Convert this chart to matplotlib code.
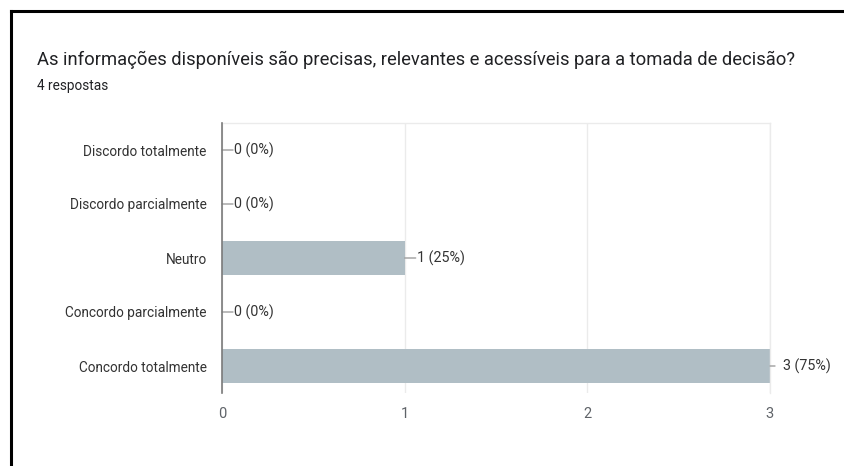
import matplotlib
matplotlib.use("Agg")
import matplotlib.pyplot as plt
from matplotlib.lines import Line2D

categories = ["Discordo totalmente", "Discordo parcialmente", "Neutro",
              "Concordo parcialmente", "Concordo totalmente"]
counts = [0, 0, 1, 0, 3]
total = 4
xticks = [0, 1, 2, 3]
title = "As informações disponíveis são precisas, relevantes e acessíveis para a tomada de decisão?"
subtitle = "4 respostas"

plt.rcParams["font.family"] = ["Roboto", "DejaVu Sans"]

W, H = 845, 466
fig = plt.figure(figsize=(W / 100, H / 100), dpi=100)
fig.patch.set_facecolor("white")

# card frame: left and top edges
fig.add_artist(Line2D([11 / W, 11 / W], [0, 1 - 11 / H], transform=fig.transFigure,
                      color="black", lw=2.2))
fig.add_artist(Line2D([11 / W, 1], [1 - 11 / H, 1 - 11 / H], transform=fig.transFigure,
                      color="black", lw=2.2))

fig.text(37 / W, 1 - 60 / H, title, fontsize=13.2, color="#202124", va="center", ha="left")
fig.text(37 / W, 1 - 86 / H, subtitle, fontsize=9.8, color="#202124", va="center", ha="left")

left, right, top, bottom = 222, 770, 123, 393
ax = fig.add_axes([left / W, 1 - bottom / H, (right - left) / W, (bottom - top) / H])

ypos = list(range(len(categories)))
ax.barh(ypos, counts, height=0.62, color="#b0bec5", zorder=2)
ax.set_xlim(0, 3)
ax.set_ylim(len(categories) - 0.5, -0.5)
ax.set_yticks(ypos)
ax.set_yticklabels(categories, fontsize=9.8, color="#333333")
ax.set_xticks(xticks)
ax.set_xticklabels([str(t) for t in xticks], fontsize=10.5, color="#5f6368")
ax.tick_params(axis="y", length=0, pad=11)
ax.tick_params(axis="x", length=0, pad=10)
ax.grid(axis="x", color="#ebebeb", lw=1, zorder=0)
ax.spines["bottom"].set_visible(False)
for s in ["top", "right"]:
    ax.spines[s].set_color("#ebebeb")
    ax.spines[s].set_linewidth(1)
ax.spines["left"].set_color("#7a7a7a")
ax.spines["left"].set_linewidth(1.2)
ax.spines["left"].set_zorder(3)

# value labels, each with a short leader line from the bar end
px = 72 / fig.dpi  # points per pixel
for y, c in zip(ypos, counts):
    pct = round(100 * c / total)
    if c == max(counts):
        lead, gap = 5, 13
    else:
        lead, gap = 11, 12
    ax.annotate("", xy=(c, y), xycoords="data",
                xytext=(lead * px, 0), textcoords="offset points",
                arrowprops=dict(arrowstyle="-", color="#9e9e9e", lw=1.0,
                                shrinkA=0, shrinkB=0), annotation_clip=False)
    ax.annotate(f"{c} ({pct}%)", xy=(c, y), xycoords="data",
                xytext=(gap * px, 0), textcoords="offset points",
                fontsize=10.3, color="#333333", va="center", ha="left",
                annotation_clip=False)

fig.savefig("out.png", dpi=100, facecolor="white")
